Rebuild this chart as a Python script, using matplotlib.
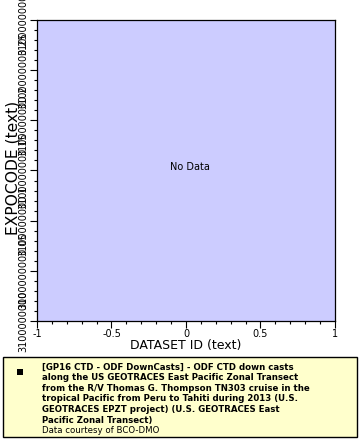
import matplotlib
matplotlib.use("Agg")
import matplotlib.pyplot as plt
from matplotlib.patches import Rectangle

# ---- data ----
x_ticks = [-1, -0.5, 0, 0.5, 1]
x_tick_labels = ["-1", "-0.5", "0", "0.5", "1"]
y_ticks = [0, 1, 2, 3, 4, 5, 6]
y_tick_labels = ["3100000000", "3100000000.05", "3100000000.1", "3100000000.15",
                 "3100000000.2", "3100000000.25", "3100000000.3"]
x_label = "DATASET ID (text)"
y_label = "EXPOCODE (text)"
no_data_text = "No Data"
legend_title_lines = [
    "[GP16 CTD - ODF DownCasts] - ODF CTD down casts",
    "along the US GEOTRACES East Pacific Zonal Transect",
    "from the R/V Thomas G. Thompson TN303 cruise in the",
    "tropical Pacific from Peru to Tahiti during 2013 (U.S.",
    "GEOTRACES EPZT project) (U.S. GEOTRACES East",
    "Pacific Zonal Transect)",
]
legend_credit = "Data courtesy of BCO-DMO"

W, H = 360, 440
fig = plt.figure(figsize=(W / 100, H / 100), dpi=100)
fig.patch.set_facecolor("white")

# axes: left 37, right 335, top 20, bottom 321 (pixels)
ax = fig.add_axes([37 / W, 1 - 321 / H, (335 - 37) / W, (321 - 20) / H])
ax.set_facecolor("#ccccff")
ax.set_xlim(-1, 1)
ax.set_ylim(y_ticks[0], y_ticks[-1])
ax.set_xticks(x_ticks)
ax.set_xticklabels(x_tick_labels, fontsize=7)
ax.set_xticks([v / 10 for v in range(-10, 11)], minor=True)
ax.set_yticks(y_ticks)
ax.set_yticklabels(y_tick_labels, fontsize=7, rotation=90, va="center")
ax.set_yticks([v / 5 for v in range(0, 31)], minor=True)
ax.tick_params(which="major", length=5, width=0.8, direction="out", pad=1, colors="black")
ax.tick_params(which="minor", length=2.5, width=0.8, direction="out")
for s in ax.spines.values():
    s.set_linewidth(0.9)
ax.set_xlabel(x_label, fontsize=9, labelpad=0)
ax.set_ylabel(y_label, fontsize=11.2)
ax.yaxis.set_label_coords(-(37 - 20) / (335 - 37), 0.51)
ax.text((190 - 37) / 298, (321 - 167) / 301, no_data_text, transform=ax.transAxes,
        ha="center", va="center", fontsize=7)

# legend box
fig.add_artist(Rectangle((3 / W, 1 - 437 / H), (357 - 3) / W, (437 - 357) / H,
                         transform=fig.transFigure, facecolor="#ffffcc",
                         edgecolor="black", linewidth=1.0))
fig.add_artist(Rectangle((17 / W, 1 - 375 / H), 6 / W, 6 / H, transform=fig.transFigure,
                         facecolor="black", edgecolor="none"))
y0 = 367
dy = 10.6
for i, line in enumerate(legend_title_lines):
    fig.text(42 / W, 1 - (y0 + i * dy) / H, line, fontsize=6.2, fontweight="bold",
             va="center", ha="left")
fig.text(42 / W, 1 - (y0 + len(legend_title_lines) * dy) / H, legend_credit, fontsize=6.2,
         va="center", ha="left")

fig.savefig("out.png", dpi=100)
